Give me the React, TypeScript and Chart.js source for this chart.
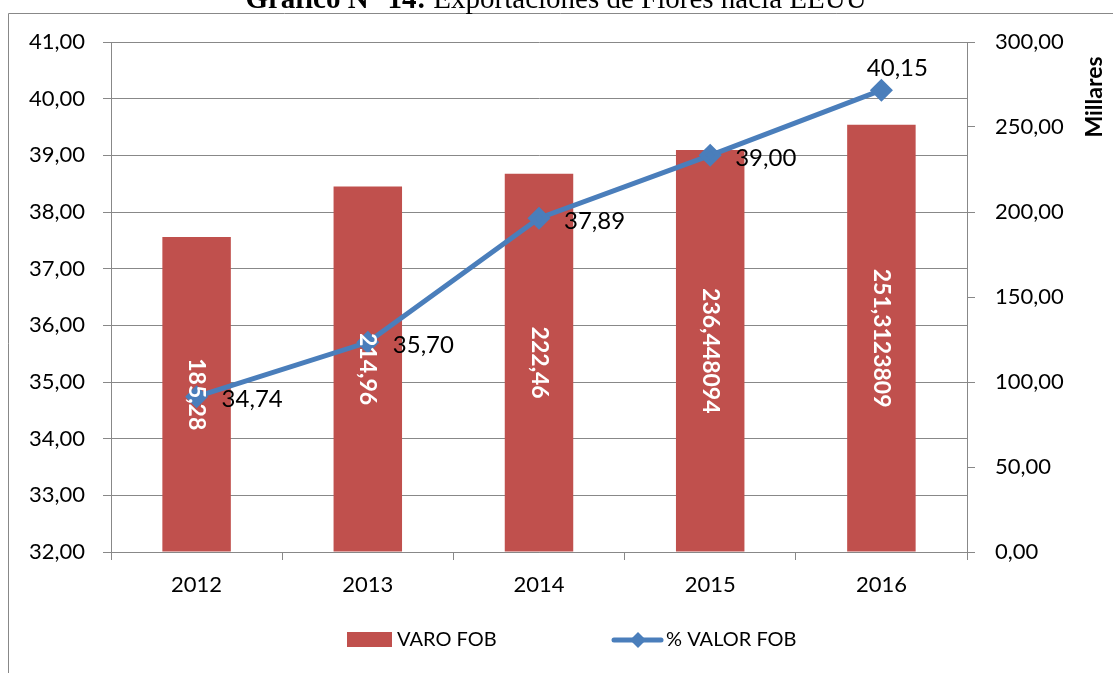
import React, { useEffect, useRef } from "react";
import { Chart, registerables } from "chart.js";

Chart.register(...registerables);

const categories = ["2012", "2013", "2014", "2015", "2016"];
const varoFob = [185.28, 214.96, 222.46, 236.448094, 251.3123809];
const pctValorFob = [34.74, 35.7, 37.89, 39.0, 40.15];
const leftTicks = { min: 32, max: 41, step: 1 };
const rightTicks = { min: 0, max: 300, step: 50 };

const FONT = "Lato";
const GRAY = "#888888";
const RED = "#C0504D";
const BLUE = "#4A7EBB";

const fmt2 = (v: number) => v.toFixed(2).replace(".", ",");

const customPlugin = {
  id: "customDraw",
  beforeDraw(chart: any) {
    const ctx = chart.ctx;
    ctx.save();
    ctx.strokeStyle = GRAY;
    ctx.lineWidth = 1;
    ctx.beginPath();
    ctx.moveTo(8.5, 673);
    ctx.lineTo(8.5, 13.5);
    ctx.lineTo(1113, 13.5);
    ctx.stroke();
    // title
    ctx.fillStyle = "#000";
    ctx.textBaseline = "alphabetic";
    const boldPart = "Gráfico N° 14:";
    const normalPart = " Exportaciones de Flores hacia EEUU";
    const size = 29;
    ctx.font = `bold ${size}px 'Liberation Serif'`;
    const w1 = ctx.measureText(boldPart).width;
    ctx.font = `${size}px 'Liberation Serif'`;
    const w2 = ctx.measureText(normalPart).width;
    const startX = 556 - (w1 + w2) / 2;
    ctx.font = `bold ${size}px 'Liberation Serif'`;
    ctx.textAlign = "left";
    ctx.fillText(boldPart, startX, 8);
    ctx.font = `${size}px 'Liberation Serif'`;
    ctx.fillText(normalPart, startX + w1, 8);
    ctx.restore();
  },
  afterDatasetsDraw(chart: any) {
    const ctx = chart.ctx;
    ctx.save();
    // bar labels
    const barMeta = chart.getDatasetMeta(0);
    barMeta.data.forEach((bar: any, i: number) => {
      const cy = (bar.y + bar.base) / 2;
      ctx.save();
      ctx.translate(bar.x, cy);
      ctx.rotate(Math.PI / 2);
      ctx.fillStyle = "#fff";
      ctx.font = `bold 23px ${FONT}`;
      ctx.textAlign = "center";
      ctx.textBaseline = "middle";
      ctx.fillText(String(varoFob[i]).replace(".", ","), 0, 0);
      ctx.restore();
    });
    // line labels
    const lineMeta = chart.getDatasetMeta(1);
    lineMeta.data.forEach((pt: any, i: number) => {
      ctx.fillStyle = "#000";
      ctx.font = `24px ${FONT}`;
      ctx.textBaseline = "middle";
      const txt = fmt2(pctValorFob[i]);
      if (i === lineMeta.data.length - 1) {
        ctx.textAlign = "center";
        ctx.fillText(txt, pt.x + 16, pt.y - 22);
      } else {
        ctx.textAlign = "left";
        ctx.fillText(txt, pt.x + 25, pt.y + 3);
      }
    });
    ctx.restore();
  },
  afterDraw(chart: any) {
    const ctx = chart.ctx;
    ctx.save();
    // Millares
    ctx.translate(1095, 97);
    ctx.rotate(-Math.PI / 2);
    ctx.fillStyle = "#000";
    ctx.font = `bold 23px ${FONT}`;
    ctx.textAlign = "center";
    ctx.textBaseline = "middle";
    ctx.fillText("Millares", 0, 0);
    ctx.restore();

    // legend
    ctx.save();
    const ly = 640;
    ctx.fillStyle = RED;
    ctx.fillRect(347, 632, 45, 15);
    ctx.fillStyle = "#000";
    ctx.font = `20px ${FONT}`;
    ctx.textAlign = "left";
    ctx.textBaseline = "middle";
    ctx.fillText("VARO FOB", 397, ly);
    ctx.strokeStyle = BLUE;
    ctx.lineWidth = 5;
    ctx.lineCap = "round";
    ctx.beginPath();
    ctx.moveTo(614, ly);
    ctx.lineTo(661, ly);
    ctx.stroke();
    ctx.fillStyle = BLUE;
    ctx.beginPath();
    ctx.moveTo(638, ly - 8);
    ctx.lineTo(646, ly);
    ctx.lineTo(638, ly + 8);
    ctx.lineTo(630, ly);
    ctx.closePath();
    ctx.fill();
    ctx.fillStyle = "#000";
    ctx.fillText("% VALOR FOB", 666, ly);
    ctx.restore();
  },
};

export default function App() {
  const ref = useRef<HTMLCanvasElement | null>(null);
  useEffect(() => {
    if (!ref.current) return;
    const chart = new Chart(ref.current, {
      type: "bar",
      data: {
        labels: categories,
        datasets: [
          {
            type: "bar",
            label: "VARO FOB",
            data: varoFob,
            backgroundColor: RED,
            yAxisID: "y1",
            barPercentage: 0.4,
            categoryPercentage: 1,
            order: 2,
          },
          {
            type: "line",
            label: "% VALOR FOB",
            data: pctValorFob,
            borderColor: BLUE,
            backgroundColor: BLUE,
            borderWidth: 5,
            pointStyle: "rectRot",
            pointRadius: 8,
            pointBackgroundColor: BLUE,
            pointBorderColor: BLUE,
            tension: 0,
            yAxisID: "y",
            order: 1,
          } as any,
        ],
      },
      options: {
        animation: false,
        responsive: false,
        maintainAspectRatio: false,
        layout: { padding: { top: 42, left: 0, right: 0, bottom: 0 } },
        plugins: {
          legend: { display: false },
          tooltip: { enabled: false },
          title: { display: false },
        },
        scales: {
          x: {
            offset: true,
            grid: {
              display: true,
              offset: true,
              drawOnChartArea: false,
              drawTicks: true,
              tickLength: 8,
              color: GRAY,
            },
            border: { display: true, color: GRAY, width: 1 },
            ticks: {
              font: { family: FONT, size: 22 },
              color: "#000",
              padding: 12,
              maxRotation: 0,
            },
            afterFit: (s: any) => {
              s.height = 121;
            },
          },
          y: {
            position: "left",
            min: leftTicks.min,
            max: leftTicks.max,
            grid: {
              color: GRAY,
              tickLength: 8,
              drawTicks: true,
            },
            border: { display: true, color: GRAY, width: 1 },
            ticks: {
              stepSize: leftTicks.step,
              font: { family: FONT, size: 22 },
              color: "#000",
              padding: 18,
              callback: (v: any) => fmt2(Number(v)),
            },
            afterFit: (s: any) => {
              s.width = 111;
            },
          },
          y1: {
            position: "right",
            min: rightTicks.min,
            max: rightTicks.max,
            grid: {
              drawOnChartArea: false,
              color: GRAY,
              tickLength: 8,
              drawTicks: true,
            },
            border: { display: true, color: GRAY, width: 1 },
            ticks: {
              stepSize: rightTicks.step,
              font: { family: FONT, size: 22 },
              color: "#000",
              padding: 20,
              callback: (v: any) => fmt2(Number(v)),
            },
            afterFit: (s: any) => {
              s.width = 146;
            },
          },
        },
      } as any,
      plugins: [customPlugin],
    });
    return () => chart.destroy();
  }, []);
  return (
    <div style={{ position: "absolute", left: 0, top: 0, width: 1113, height: 673, background: "#fff" }}>
      <canvas ref={ref} width={1113} height={673} style={{ display: "block", width: 1113, height: 673 }} />
    </div>
  );
}
